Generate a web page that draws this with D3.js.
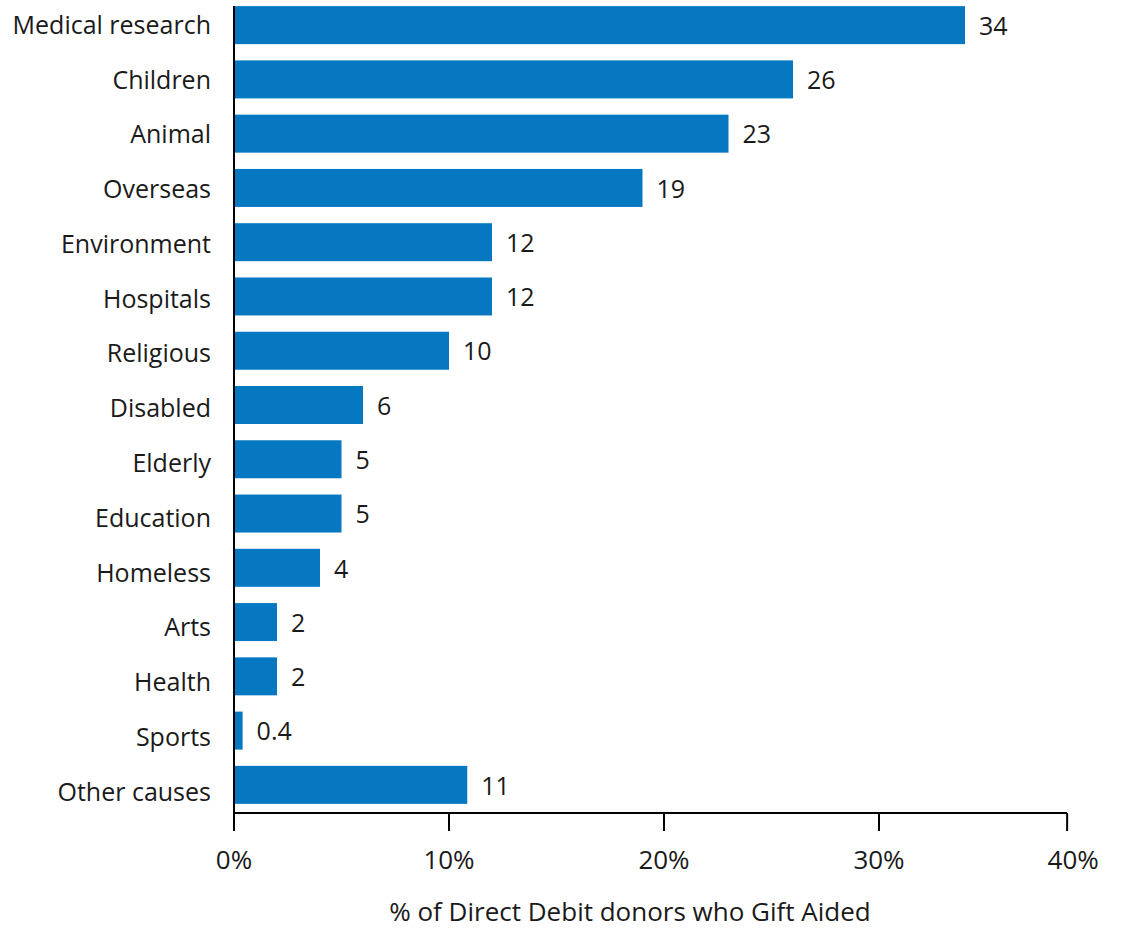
<!DOCTYPE html>
<html>
<head>
<meta charset="utf-8">
<script src="https://cdn.jsdelivr.net/npm/d3@7"></script>
<style>
  body { margin: 0; background: #fff; }
  text { font-family: "Open Sans", "Noto Sans", sans-serif; fill: #1a1a1a; }
</style>
</head>
<body>
<script>
var causes = ['Medical research', 'Children', 'Animal', 'Overseas', 'Environment', 'Hospitals',
  'Religious', 'Disabled', 'Elderly', 'Education', 'Homeless', 'Arts', 'Health', 'Sports', 'Other causes'];
var values = [34, 26, 23, 19, 12, 12, 10, 6, 5, 5, 4, 2, 2, 0.4, 10.85];
var valueLabels = ['34', '26', '23', '19', '12', '12', '10', '6', '5', '5', '4', '2', '2', '0.4', '11'];
var tickValues = [0, 10, 20, 30, 40];
var axisTitle = '% of Direct Debit donors who Gift Aided';

var width = 1123, height = 932;
var left = 234, axisY = 813;

var svg = d3.select('body').append('svg')
  .attr('width', width)
  .attr('height', height);

var x = d3.scaleLinear().domain([0, 40]).range([left, left + 860]);
// the original axis stops a bit short of 40% - last tick sits at the end of the line
var axisEnd = 38.75;

var y = d3.scaleBand()
  .domain(causes)
  .range([-2, 812])
  .paddingInner(0.3)
  .paddingOuter(0.15);

// category labels drift slightly from the bars in the original
var yLabel = d3.scalePoint().domain(causes).range([25, 792]);

svg.selectAll('rect.bar')
  .data(values)
  .enter().append('rect')
  .attr('class', 'bar')
  .attr('x', x(0))
  .attr('y', function(d, i) { return y(causes[i]); })
  .attr('width', function(d) { return x(d) - x(0); })
  .attr('height', y.bandwidth())
  .attr('fill', '#0677c1');

svg.selectAll('text.val')
  .data(values)
  .enter().append('text')
  .attr('class', 'val')
  .attr('x', function(d) { return x(d) + 14; })
  .attr('y', function(d, i) { return y(causes[i]) + y.bandwidth() / 2 + 1; })
  .attr('dy', '0.35em')
  .attr('font-size', 25)
  .text(function(d, i) { return valueLabels[i]; });

svg.selectAll('text.cat')
  .data(causes)
  .enter().append('text')
  .attr('class', 'cat')
  .attr('x', left - 23)
  .attr('y', function(d) { return yLabel(d); })
  .attr('dy', '0.35em')
  .attr('text-anchor', 'end')
  .attr('font-size', 25)
  .text(function(d) { return d; });

// vertical axis line
svg.append('line')
  .attr('x1', left).attr('x2', left)
  .attr('y1', 6).attr('y2', axisY)
  .attr('stroke', '#000')
  .attr('stroke-width', 2);

// horizontal axis
var xAxisScale = function(v) { return v === 40 ? x(axisEnd) : x(v); };
var gx = svg.append('g');
gx.append('line')
  .attr('x1', x(0)).attr('x2', x(axisEnd))
  .attr('y1', axisY).attr('y2', axisY)
  .attr('stroke', '#000')
  .attr('stroke-width', 2);

var ticks = gx.selectAll('g.tick')
  .data(tickValues)
  .enter().append('g')
  .attr('class', 'tick')
  .attr('transform', function(d) { return 'translate(' + xAxisScale(d) + ',0)'; });

ticks.append('line')
  .attr('y1', axisY).attr('y2', axisY + 18)
  .attr('stroke', '#000')
  .attr('stroke-width', 2);

ticks.append('text')
  .attr('y', axisY + 47)
  .attr('dy', '0.35em')
  .attr('text-anchor', 'middle')
  .attr('dx', function(d) { return d === 40 ? 6 : 0; })
  .attr('font-size', 26)
  .text(function(d) { return d + '%'; });

svg.append('text')
  .attr('x', 630)
  .attr('y', 912)
  .attr('dy', '0.35em')
  .attr('text-anchor', 'middle')
  .attr('font-size', 26)
  .text(axisTitle);
</script>
</body>
</html>
